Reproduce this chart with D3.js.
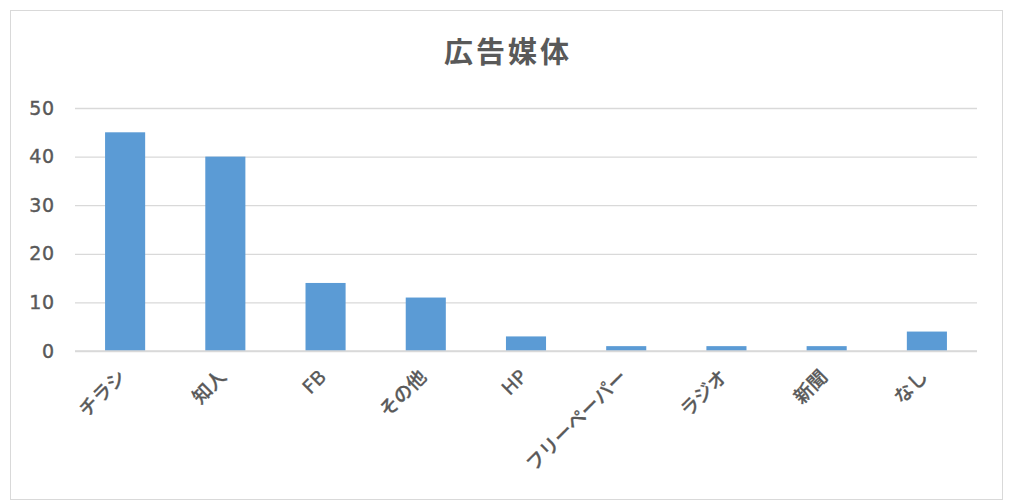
<!DOCTYPE html>
<html><head><meta charset="utf-8">
<script src="https://cdn.jsdelivr.net/npm/d3@7"></script>
<style>body{margin:0;background:#fff}</style>
</head><body><svg id="c" width="1011" height="500"></svg>
<script>
const categories = ["チラシ","知人","FB","その他","HP","フリーペーパー","ラジオ","新聞","なし"];
const values = [45,40,14,11,3,1,1,1,4];
const yTicks = [0,10,20,30,40,50];
const title = "広告媒体";

const svg = d3.select("#c");
const font = "'DejaVu Sans','Noto Sans CJK JP',sans-serif";
const cjk = "'Noto Sans CJK JP',sans-serif";
const txt = "#595959";
svg.append("rect").attr("x",10.5).attr("y",10.5).attr("width",992).attr("height",489)
  .attr("fill","#fff").attr("stroke","#d9d9d9");
const m = {left:75,right:977,top:108,bottom:351};
const x = d3.scaleBand().domain(categories).range([m.left,m.right]).paddingInner(0.6).paddingOuter(0.3);
const y = d3.scaleLinear().domain([0,50]).range([m.bottom,m.top]);

svg.append("text").attr("x",508).attr("y",63).attr("text-anchor","middle")
  .attr("font-family",cjk).attr("font-weight","bold").attr("font-size",29).attr("letter-spacing",3)
  .attr("fill",txt).text(title);

const ya = svg.append("g").attr("transform",`translate(${m.left},0)`)
  .call(d3.axisLeft(y).tickValues(yTicks).tickSize(-(m.right-m.left)).tickPadding(20));
ya.select(".domain").remove();
ya.selectAll(".tick line").attr("stroke","#d9d9d9").attr("stroke-width",1.3);
ya.selectAll(".tick text").attr("font-family",font).attr("font-size",19).attr("font-weight",500)
  .attr("letter-spacing",0.8).attr("fill",txt).attr("stroke",txt).attr("stroke-width",0.4);

svg.append("g").selectAll("rect").data(values).join("rect")
  .attr("x",(d,i)=>x(categories[i])).attr("width",x.bandwidth())
  .attr("y",d=>y(d)).attr("height",d=>y(0)-y(d)).attr("fill","#5b9bd5");

svg.append("line").attr("x1",m.left).attr("x2",m.right).attr("y1",y(0)).attr("y2",y(0))
  .attr("stroke","#d9d9d9").attr("stroke-width",1.5);

const xa = svg.append("g").attr("transform",`translate(0,${m.bottom})`)
  .call(d3.axisBottom(x).tickSize(0).tickPadding(0));
xa.select(".domain").remove();
xa.selectAll(".tick text").attr("font-family",font).attr("font-size",19).attr("font-weight",500).attr("fill",txt)
  .attr("stroke",txt).attr("stroke-width",0.3)
  .attr("text-anchor","end").attr("dy",0).attr("y",0)
  .attr("transform","translate(2,27) rotate(-45)");
</script></body></html>
